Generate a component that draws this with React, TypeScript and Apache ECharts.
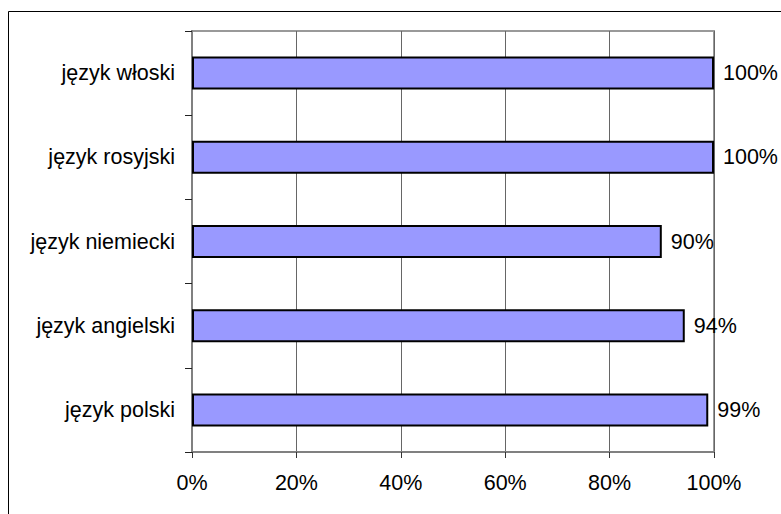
import React, { useEffect, useRef } from "react";
import * as echarts from "echarts";

const categories = ["język polski", "język angielski", "język niemiecki", "język rosyjski", "język włoski"];
const values = [98.9, 94.4, 90, 100, 100];
const xTicks = [0, 20, 40, 60, 80, 100];

export default function App() {
  const ref = useRef<HTMLDivElement>(null);
  useEffect(() => {
    if (!ref.current) return;
    const chart = echarts.init(ref.current, null, { renderer: "svg" });
    const font = "Liberation Sans, Arial, sans-serif";
    chart.setOption({
      animation: false,
      backgroundColor: "#ffffff",
      textStyle: { fontFamily: font },
      graphic: [
        {
          type: "rect",
          shape: { x: 8.5, y: 11.5, width: 900, height: 700 },
          style: { fill: "none", stroke: "#000", lineWidth: 1 },
          silent: true,
        },
      ],
      grid: {
        left: 192,
        top: 31,
        right: 67,
        bottom: 62,
        show: true,
        borderColor: "#999999",
        borderWidth: 2,
        backgroundColor: "transparent",
      },
      xAxis: {
        type: "value",
        min: xTicks[0],
        max: xTicks[xTicks.length - 1],
        interval: 20,
        axisLine: { show: true, lineStyle: { color: "#808080", width: 2 } },
        axisTick: { show: true, length: 6, lineStyle: { color: "#333", width: 1 } },
        splitLine: { show: true, lineStyle: { color: "#666666", width: 1 } },
        axisLabel: {
          formatter: "{value}%",
          fontSize: 21.5,
          color: "#000",
          margin: 20,
          fontFamily: font,
        },
      },
      yAxis: {
        type: "category",
        data: categories,
        axisLine: { show: true, lineStyle: { color: "#808080", width: 2 } },
        axisTick: { show: true, length: 7, lineStyle: { color: "#222", width: 1 } },
        axisLabel: {
          fontSize: 21.5,
          color: "#000",
          margin: 17,
          fontFamily: font,
        },
        splitLine: { show: false },
      },
      series: [
        {
          type: "bar",
          data: values,
          barWidth: 33,
          itemStyle: { color: "#9999FF", borderColor: "#000", borderWidth: 2 },
          label: {
            show: true,
            position: "right",
            distance: 9,
            fontSize: 21.5,
            color: "#000",
            fontFamily: font,
            formatter: (p: any) => Math.round(p.value) + "%",
          },
        },
      ],
    });
    return () => chart.dispose();
  }, []);
  return (
    <div
      ref={ref}
      style={{ position: "fixed", left: 0, top: 0, width: 781, height: 514 }}
    />
  );
}
